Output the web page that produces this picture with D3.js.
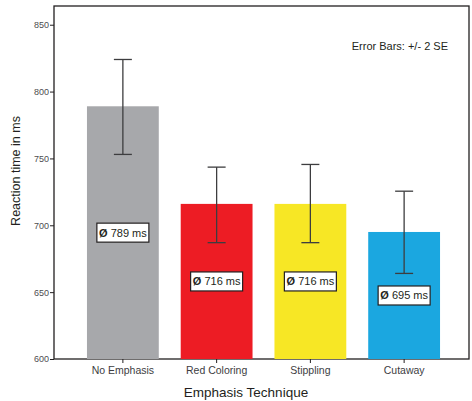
<!DOCTYPE html>
<html>
<head>
<meta charset="utf-8">
<script src="https://cdn.jsdelivr.net/npm/d3@7"></script>
<style>
  body { margin: 0; background: #fff; }
  svg { display: block; font-family: "Liberation Sans", Arial, sans-serif; }
</style>
</head>
<body>
<div id="chart-container"></div>
<script>
// data
const categories = ["No Emphasis", "Red Coloring", "Stippling", "Cutaway"];
const means = [789, 716, 716, 695];
const errLow = [753, 687, 687, 664];
const errHigh = [824, 743.5, 745.5, 725.5];
const barColors = ["#a7a8ab", "#ed1c24", "#f7e725", "#1ba7e0"];
const yTicks = [600, 650, 700, 750, 800, 850];

const width = 472, height = 401;
const plot = {left: 54, right: 469, top: 6, bottom: 359};

const svg = d3.select("#chart-container")
  .append("svg")
  .attr("width", width)
  .attr("height", height);

const data = categories.map((c, i) => ({
  cat: c, mean: means[i], lo: errLow[i], hi: errHigh[i], color: barColors[i]
}));

const y = d3.scaleLinear()
  .domain([600, 864])
  .range([plot.bottom, plot.top]);

const x = d3.scaleBand()
  .domain(categories)
  .range([76, 451])
  .paddingInner(0.234)
  .paddingOuter(0.117);

// frame
svg.append("rect")
  .attr("x", plot.left).attr("y", plot.top)
  .attr("width", plot.right - plot.left)
  .attr("height", plot.bottom - plot.top)
  .attr("fill", "none")
  .attr("stroke", "#231f20")
  .attr("stroke-width", 1.3);

// bars
svg.selectAll("rect.bar")
  .data(data)
  .join("rect")
    .attr("class", "bar")
    .attr("x", d => x(d.cat))
    .attr("width", x.bandwidth())
    .attr("y", d => y(d.mean))
    .attr("height", d => y(600) - y(d.mean))
    .attr("fill", d => d.color);

// error bars
const cap = 9;
const eb = svg.selectAll("g.err")
  .data(data)
  .join("g")
    .attr("class", "err")
    .attr("stroke", "#3d3d3f")
    .attr("stroke-width", 1.3);
eb.append("line")
  .attr("x1", d => x(d.cat) + x.bandwidth() / 2)
  .attr("x2", d => x(d.cat) + x.bandwidth() / 2)
  .attr("y1", d => y(d.hi))
  .attr("y2", d => y(d.lo));
eb.append("line")
  .attr("x1", d => x(d.cat) + x.bandwidth() / 2 - cap)
  .attr("x2", d => x(d.cat) + x.bandwidth() / 2 + cap)
  .attr("y1", d => y(d.hi)).attr("y2", d => y(d.hi));
eb.append("line")
  .attr("x1", d => x(d.cat) + x.bandwidth() / 2 - cap)
  .attr("x2", d => x(d.cat) + x.bandwidth() / 2 + cap)
  .attr("y1", d => y(d.lo)).attr("y2", d => y(d.lo));

// mean labels, halfway up each bar
const lab = svg.selectAll("g.lab")
  .data(data)
  .join("g")
    .attr("class", "lab")
    .attr("transform", d => `translate(${x(d.cat) + x.bandwidth() / 2},${y(600 + (d.mean - 600) / 2)})`);
lab.append("rect")
  .attr("x", -26).attr("y", -9.5)
  .attr("width", 52).attr("height", 19)
  .attr("fill", "#fff")
  .attr("stroke", "#231f20")
  .attr("stroke-width", 1.2);
const lt = lab.append("text")
  .attr("text-anchor", "middle")
  .attr("dy", "0.36em")
  .style("font-size", "11px")
  .attr("fill", "#231f20");
lt.append("tspan").style("font-weight", "bold").text("Ø");
lt.append("tspan").text(d => ` ${d.mean} ms`);

// y axis
const yAxis = svg.append("g")
  .attr("transform", `translate(${plot.left},0)`)
  .call(d3.axisLeft(y).tickValues(yTicks).tickSize(4).tickPadding(1));
yAxis.select(".domain").remove();
yAxis.selectAll("line").attr("stroke", "#231f20");
yAxis.selectAll("text")
  .attr("fill", "#4d4d4f")
  .style("font-size", "9px")
  .style("font-family", "Liberation Sans, Arial, sans-serif");

// x axis
const xAxis = svg.append("g")
  .attr("transform", `translate(0,${plot.bottom})`)
  .call(d3.axisBottom(x).tickSize(4).tickPadding(4));
xAxis.select(".domain").remove();
xAxis.selectAll("line").attr("stroke", "#231f20");
xAxis.selectAll("text")
  .attr("fill", "#3d3d3f")
  .style("font-size", "10.5px")
  .style("font-family", "Liberation Sans, Arial, sans-serif");

// titles
svg.append("text")
  .attr("x", 246).attr("y", 397)
  .attr("text-anchor", "middle")
  .attr("fill", "#231f20")
  .style("font-size", "13.5px")
  .text("Emphasis Technique");

svg.append("text")
  .attr("transform", `translate(20,171) rotate(-90)`)
  .attr("text-anchor", "middle")
  .attr("fill", "#231f20")
  .style("font-size", "12.5px")
  .text("Reaction time in ms");

svg.append("text")
  .attr("x", 448).attr("y", 50)
  .attr("text-anchor", "end")
  .attr("fill", "#231f20")
  .style("font-size", "11px")
  .text("Error Bars: +/- 2 SE");
</script>
</body>
</html>
